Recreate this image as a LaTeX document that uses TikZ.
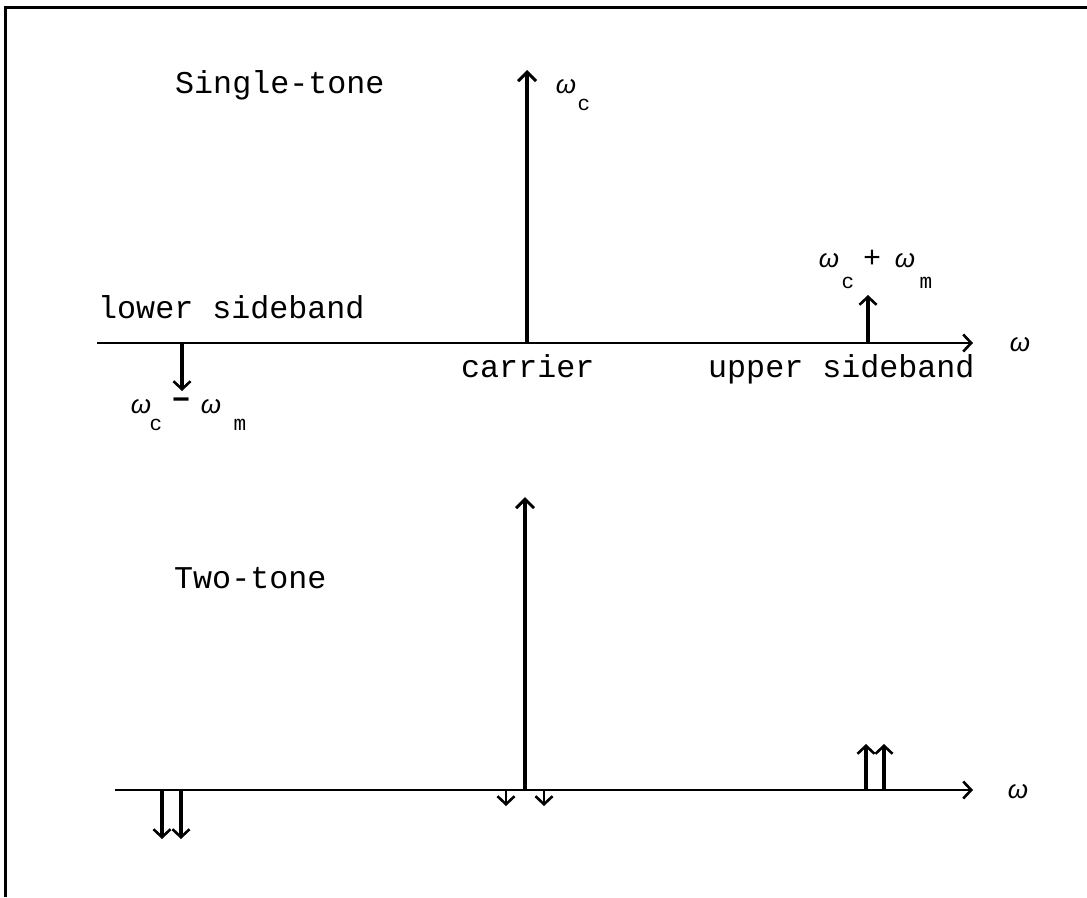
\documentclass[tikz,border=0pt]{standalone}
\usepackage{fontspec}
\setmonofont{Liberation Mono}
\newfontfamily\omfont{Liberation Sans}
\usetikzlibrary{arrows.meta}
\begin{document}
\begin{tikzpicture}[x=1pt,y=-1pt,
  lbl/.style={font=\ttfamily\fontsize{31.7}{36}\selectfont, inner sep=0pt, anchor=base west},
  om/.style={font=\omfont\itshape\fontsize{26}{30}\selectfont, inner sep=0pt},
  op/.style={font=\ttfamily\fontsize{30}{34}\selectfont, inner sep=0pt},
  sub/.style={font=\ttfamily\fontsize{21}{24}\selectfont, inner sep=0pt},
  tip/.style={-{Straight Barb[length=8pt,width=17pt,line width=2.6pt]}},
  axis/.style={line width=2.6pt, tip},
  spike/.style={line width=3.2pt, tip},
  car/.style={line width=4.2pt, -{Straight Barb[length=9pt,width=18pt,line width=3pt]}},
  frame/.style={line width=3pt}]
\useasboundingbox (0,0) rectangle (1087,897);
% frame (top and left edges only)
\coordinate (f1) at (5,897);
\coordinate (f2) at (5,7);
\coordinate (f3) at (1087,7);
\draw[frame] (f1) -- (f2) -- (f3);

% ---------- Single-tone ----------
\node[lbl] (t1) at (175,93) {Single-tone};
\coordinate (a1s) at (97,343);
\coordinate (a1e) at (973,343);
\draw[axis] (a1s) -- (a1e);
\node[om] (w1) at (1020,345) {ω};

\coordinate (c1b) at (527,343);
\coordinate (c1t) at (527,70);
\draw[car] (c1b) -- (c1t);
\node[om] (wc) at (566,87) {ω};
\node[sub] (wcs) at (584,105) {c};

\coordinate (u1b) at (868,343);
\coordinate (u1t) at (868,295);
\draw[spike] (u1b) -- (u1t);
\node[om] (up1) at (829,261) {ω};
\node[sub] (up2) at (848,283) {c};
\node[op] (up3) at (872,259) {+};
\node[om] (up4) at (905,261) {ω};
\node[sub] (up5) at (926,283) {m};

\coordinate (l1b) at (182,343);
\coordinate (l1t) at (182,391);
\draw[spike] (l1b) -- (l1t);
\node[om] (lo1) at (141,407) {ω};
\node[sub] (lo2) at (156,425) {c};
\node[op] (lo3) at (181,404) {\bfseries −};
\node[om] (lo4) at (211,407) {ω};
\node[sub] (lo5) at (240,425) {m};

\node[lbl] (lsb) at (98,318) {lower sideband};
\node[lbl] (car) at (461,377) {carrier};
\node[lbl] (usb) at (708,377) {upper sideband};

% ---------- Two-tone ----------
\node[lbl] (t2) at (174,588) {Two-tone};
\coordinate (a2s) at (115,790);
\coordinate (a2e) at (973,790);
\draw[axis] (a2s) -- (a2e);
\node[om] (w2) at (1018,792) {ω};

\coordinate (c2b) at (525,790);
\coordinate (c2t) at (525,497);
\draw[car] (c2b) -- (c2t);

\coordinate (d1b) at (162,790);
\coordinate (d1t) at (162,839);
\coordinate (d2b) at (181,790);
\coordinate (d2t) at (181,839);
\draw[spike] (d1b) -- (d1t);
\draw[spike] (d2b) -- (d2t);

\coordinate (s1b) at (506,790);
\coordinate (s1t) at (506,806);
\coordinate (s2b) at (544,790);
\coordinate (s2t) at (544,806);
\draw[spike, line width=2.6pt] (s1b) -- (s1t);
\draw[spike, line width=2.6pt] (s2b) -- (s2t);

\coordinate (e1b) at (866,790);
\coordinate (e1t) at (866,744);
\coordinate (e2b) at (884,790);
\coordinate (e2t) at (884,744);
\draw[spike] (e1b) -- (e1t);
\draw[spike] (e2b) -- (e2t);
\end{tikzpicture}
\end{document}
